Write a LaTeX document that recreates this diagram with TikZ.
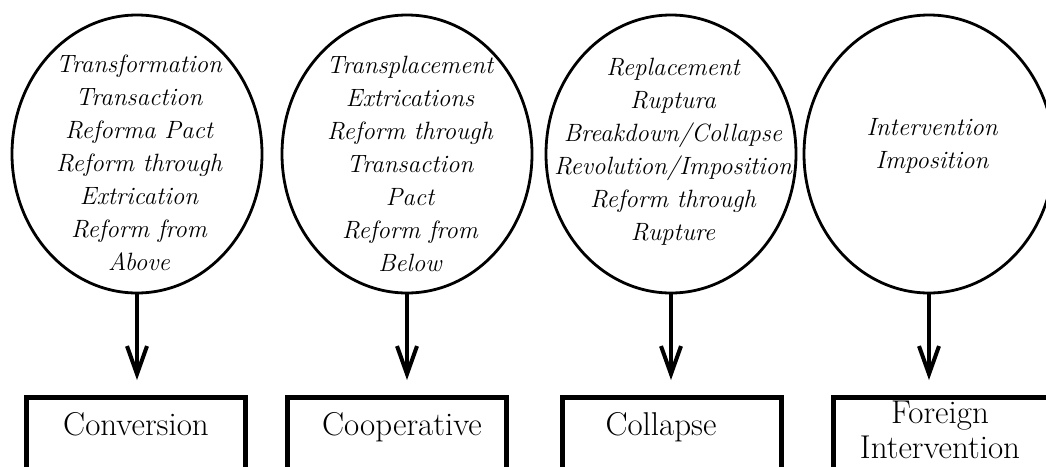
\documentclass[tikz,border=0pt]{standalone}
\usetikzlibrary{shapes.geometric,arrows.meta}
\begin{document}
\begin{tikzpicture}[x=1pt,y=-1pt,
  oval/.style={draw, ellipse, line width=2.8pt, minimum width=250pt, minimum height=278pt, inner sep=0pt},
  itemtext/.style={font=\fontsize{25}{33}\selectfont\itshape, align=center, inner sep=0pt},
  kindbox/.style={draw, line width=4.5pt, minimum width=219pt, minimum height=130pt, anchor=north, inner sep=0pt},
  kindtext/.style={font=\fontsize{33}{35}\selectfont, align=center, inner sep=0pt},
  arr/.style={line width=4pt, -{Straight Barb[length=28pt,width=20pt]}, shorten >=15pt}]
\useasboundingbox (0,0) rectangle (1046,466);
\clip (0,0) rectangle (1046,466);

\node[oval] (e1) at (137,154) {};
\node[oval] (e2) at (407,154) {};
\node[oval] (e3) at (671,154) {};
\node[oval] (e4) at (929,154) {};

\node[itemtext] (t1) at (139,163) {Transformation\\Transaction\\Reforma Pact\\Reform through\\Extrication\\Reform from\\Above};
\node[itemtext] (t2) at (410,164) {Transplacement\\Extrications\\Reform through\\Transaction\\Pact\\Reform from\\Below};
\node[itemtext] (t3) at (673,152) {Replacement\\Ruptura\\Breakdown/Collapse\\Revolution/Imposition\\Reform through\\Rupture};
\node[itemtext] (t4) at (932,146) {Intervention\\Imposition};

\node[kindbox] (b1) at (136,395) {};
\node[kindbox] (b2) at (397,395) {};
\node[kindbox] (b3) at (672,395) {};
\node[kindbox] (b4) at (943,395) {};

\node[kindtext, anchor=base] (k1) at (136,435) {Conversion};
\node[kindtext, anchor=base] (k2) at (402,435) {Cooperative};
\node[kindtext, anchor=base] (k3) at (661,435) {Collapse};
\node[kindtext] (k4) at (940,430) {Foreign\\Intervention};

\draw[arr] (e1.south) -- (e1.south |- b1.north);
\draw[arr] (e2.south) -- (e2.south |- b2.north);
\draw[arr] (e3.south) -- (e3.south |- b3.north);
\draw[arr] (e4.south) -- (e4.south |- b4.north);
\end{tikzpicture}
\end{document}
